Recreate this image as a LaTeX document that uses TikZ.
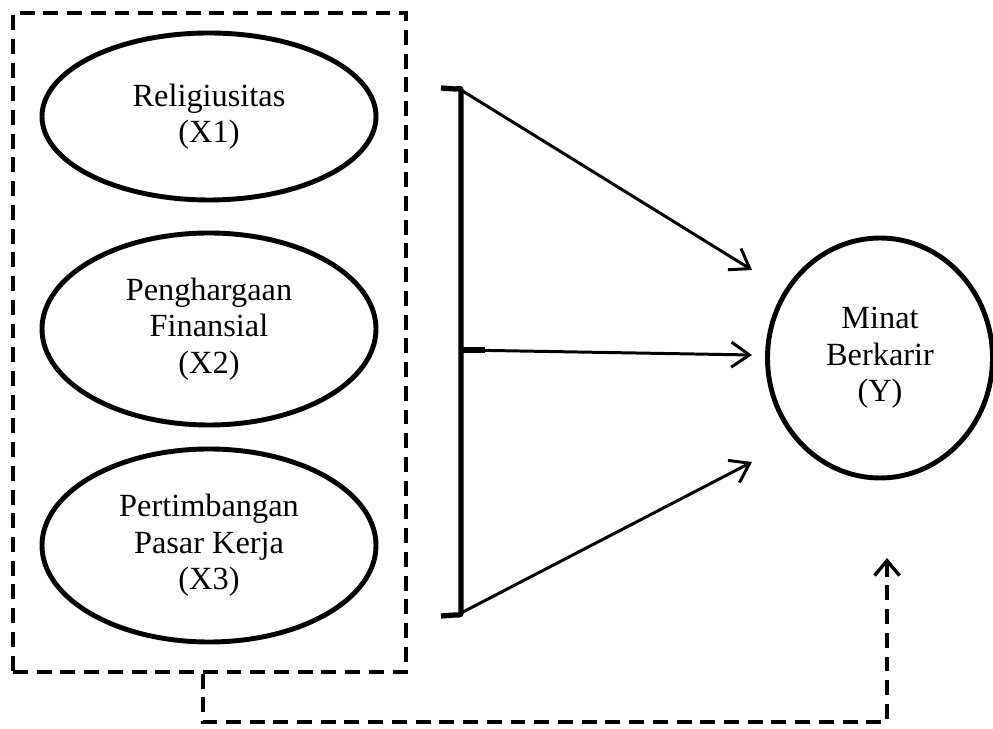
\documentclass[tikz,border=0pt]{standalone}
\usepackage{fontspec}
\setmainfont{Liberation Serif}
\usepackage{tikz}
\usetikzlibrary{arrows.meta}
\usetikzlibrary{shapes.geometric}

\begin{document}
\begin{tikzpicture}[
        var/.style={draw, ellipse, line width=2.8pt, inner sep=0pt, align=center,
            font=\fontsize{18.4}{20.7}\selectfont},
        grpbox/.style={draw, line width=1.9pt, dash pattern=on 8.5pt off 5pt, inner sep=0pt},
        link/.style={line width=1.7pt, -{Straight Barb[length=0.36cm, width=0.5cm, line width=1.7pt]}},
        feedback/.style={line width=1.9pt, dash pattern=on 8.5pt off 5pt,
            -{Straight Barb[length=0.3cm, width=0.5cm, line width=1.9pt]}}
    ]
        \useasboundingbox (0,0) rectangle (19.86,14.58);

        % Dashed group round the independent variables
        \node[grpbox, minimum width=7.86cm, minimum height=13.18cm] (grp) at (4.19,7.73) {};

        % The independent variables
        \node[var, minimum width=6.68cm, minimum height=3.34cm] (x1) at (4.18,12.25) {Religiusitas\\(X1)};
        \node[var, minimum width=6.68cm, minimum height=3.84cm] (x2) at (4.18,8.00) {Penghargaan\\Finansial\\(X2)};
        \node[var, minimum width=6.68cm, minimum height=3.86cm] (x3) at (4.18,3.67) {Pertimbangan\\Pasar Kerja\\(X3)};

        % The dependent variable
        \node[var, minimum width=4.5cm, minimum height=4.8cm] (y) at (17.60,7.42) {Minat\\Berkarir\\(Y)};

        % Bracket
        \coordinate (brtop) at (9.22,12.78);
        \coordinate (brmid) at (9.22,7.58);
        \coordinate (brbot) at (9.22,2.32);
        \draw[line width=3pt] (8.82,12.82) -- (9.10,12.80) to[out=0,in=90] (brtop) -- (brbot)
            to[out=-90,in=0] (9.10,2.28) -- (8.82,2.26);
        \draw[line width=3pt] (brmid) -- (9.70,7.58);

        % Arrows to Y
        \coordinate (tip1) at (15.04,9.18);
        \coordinate (tip2) at (15.04,7.48);
        \coordinate (tip3) at (15.04,5.34);
        \draw[link] (brtop) -- (tip1);
        \draw[link] (brmid) -- (tip2);
        \draw[link] (brbot) -- (tip3);

        % Simultaneous effect
        \coordinate (fb) at (4.06,0.14);
        \coordinate (fbend) at (17.74,3.42);
        \draw[feedback] (grp.south -| fb) -- (fb) -| (fbend);
    \end{tikzpicture}
\end{document}
